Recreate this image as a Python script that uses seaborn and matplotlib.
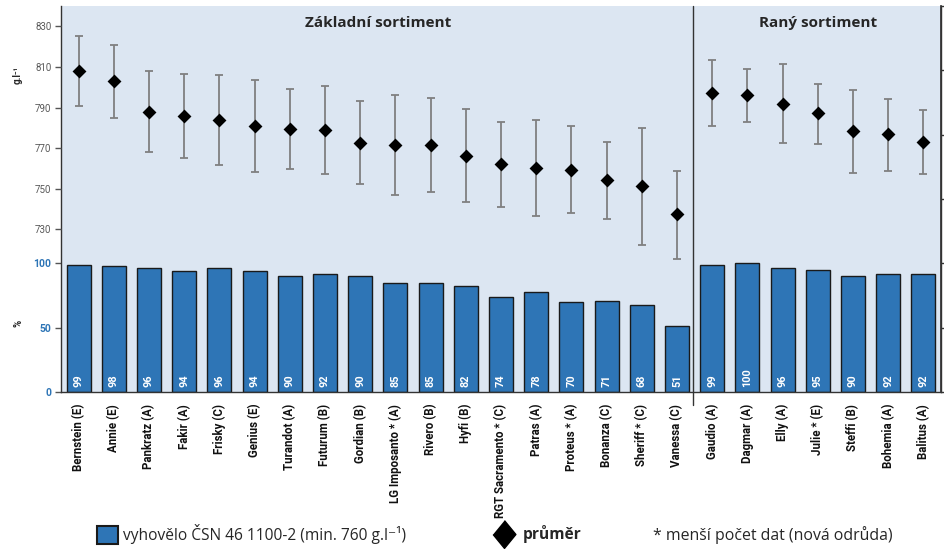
import numpy as np
import pandas as pd
import matplotlib
matplotlib.use("Agg")
import matplotlib.pyplot as plt
import seaborn as sns
from matplotlib.patches import Patch
from matplotlib.lines import Line2D

# ---------------- data ----------------
varieties = ["Bernstein (E)", "Annie (E)", "Pankratz (A)", "Fakir (A)", "Frisky (C)",
             "Genius (E)", "Turandot (A)", "Futurum (B)", "Gordian (B)",
             "LG Imposanto * (A)", "Rivero (B)", "Hyfi (B)", "RGT Sacramento * (C)",
             "Patras (A)", "Proteus * (A)", "Bonanza (C)", "Sheriff * (C)", "Vanessa (C)",
             "Gaudio (A)", "Dagmar (A)", "Elly (A)", "Julie * (E)", "Steffi (B)",
             "Bohemia (A)", "Balitus (A)"]
group = ["Základní sortiment"] * 18 + ["Raný sortiment"] * 7
pct_ok = [99, 98, 96, 94, 96, 94, 90, 92, 90, 85, 85, 82, 74, 78, 70, 71, 68, 51,
          99, 100, 96, 95, 90, 92, 92]
mean_vol = [808, 803, 788, 786, 784, 781, 779.3, 778.8, 772.8, 771.6, 771.5, 766.2,
            762, 760.3, 759.5, 754.3, 751.3, 737.4,
            797.2, 796.1, 792, 787.1, 778.4, 776.9, 773.3]
err_hi = [825.2, 821, 808, 806.7, 806, 803.6, 798.9, 800.6, 793.4, 796.4, 794.9, 789.5,
          782.8, 784.1, 780.7, 773.1, 780, 759,
          813.4, 809.2, 811.5, 801.8, 798.7, 794.2, 789]
err_lo = [791, 785, 767.9, 765.4, 761.5, 758.5, 760, 757.2, 752.6, 747.2, 748.2, 743.3,
          741, 736.4, 737.9, 735.2, 722.6, 715.5,
          780.8, 783.1, 772.6, 772.3, 757.8, 759, 757.5]
vol_ticks = [730, 750, 770, 790, 810, 830]
pct_ticks = [0, 50, 100]

df = pd.DataFrame({"odruda": varieties, "skupina": group, "pct": pct_ok,
                   "mean": mean_vol, "hi": err_hi, "lo": err_lo})

# ---------------- style ----------------
sns.set_theme(style="white")
COND = ["Roboto", "DejaVu Sans"]
plt.rcParams["font.family"] = ["Open Sans", "DejaVu Sans"]

BLUE = "#2E75B6"
BG = "#DCE6F2"

fig = plt.figure(figsize=(9.45, 5.49), dpi=100)
ax = fig.add_axes([61 / 945, 1 - 392 / 549, 880 / 945, 386 / 549])
ax.set_facecolor(BG)

sns.barplot(data=df, x="odruda", y="pct", ax=ax, color=BLUE, saturation=1,
            width=0.68, edgecolor="#1a1a1a", linewidth=1.0, zorder=2)
ax.set_ylim(0, 300)
ax.set_xlim(-0.5, len(varieties) - 0.5)
ax.set_yticks(pct_ticks)
ax.set_yticklabels([str(t) for t in pct_ticks], color=BLUE, fontweight="bold",
                   fontsize=7.5, family=COND)
ax.tick_params(axis="y", left=True, length=4, width=1, color="#555555", pad=3)
ax.set_xlabel("")
ax.set_ylabel("")
ax.set_xticks(range(len(varieties)))
ax.set_xticklabels(varieties, rotation=90, fontsize=8.3, fontweight="bold",
                   family=COND, color="#111111")
ax.tick_params(axis="x", bottom=False, pad=2.5)

for i, v in enumerate(pct_ok):
    ax.text(i, 4, str(v), rotation=90, ha="center", va="bottom", color="white",
            fontsize=7.8, fontweight="bold", family=COND, zorder=3)

ax.spines["top"].set_visible(False)
for s in ["left", "bottom", "right"]:
    ax.spines[s].set_color("#333333")
    ax.spines[s].set_linewidth(1.0)

# right-side ticks (no labels)
sec = ax.secondary_yaxis("right")
sec.set_yticks([0, 50, 100, 150, 200, 250, 300])
sec.set_yticklabels([])
sec.tick_params(length=5, width=1, color="#333333")
sec.spines["right"].set_color("#333333")

# divider between groups
n_base = group.count("Základní sortiment")
ax.axvline(n_base - 0.55, ymin=-0.034, ymax=1, color="#333333", lw=1.0,
           clip_on=False, zorder=4)

# group titles
trans = ax.get_xaxis_transform()
ax.text((n_base - 1) / 2, 0.955, "Základní sortiment", transform=trans,
        ha="center", va="center", fontsize=11, fontweight="bold", color="#262626")
ax.text(n_base + (len(varieties) - n_base - 1) / 2, 0.955, "Raný sortiment",
        transform=trans, ha="center", va="center", fontsize=11, fontweight="bold",
        color="#262626")

# ---------------- means with ranges ----------------
ax2 = ax.twinx()
ax2.set_ylim(650, 840)
xpos = np.arange(len(varieties))
m = np.array(mean_vol)
ax2.errorbar(xpos, m, yerr=[m - np.array(err_lo), np.array(err_hi) - m], fmt="none",
             ecolor="#808080", elinewidth=1.3, capsize=3, capthick=1.3, zorder=3)
sns.scatterplot(x=xpos, y=m, ax=ax2, marker="D", s=50, color="black",
                edgecolor="black", linewidth=0, zorder=4, legend=False)
ax2.yaxis.tick_left()
ax2.set_yticks(vol_ticks)
ax2.set_yticklabels([str(t) for t in vol_ticks], fontsize=7, color="#595959",
                    family=COND)
ax2.tick_params(axis="y", left=True, right=False, length=4, width=1,
                color="#555555", pad=3)
for s in ax2.spines.values():
    s.set_visible(False)
ax2.set_xlim(-0.5, len(varieties) - 0.5)

# axis labels
fig.text(18 / 945, 1 - 75 / 549, "g.l⁻¹", rotation=90, ha="center", va="center",
         fontsize=7, fontweight="bold", family=COND, color="#262626")
fig.text(18 / 945, 1 - 323 / 549, "%", rotation=90, ha="center", va="center",
         fontsize=7, fontweight="bold", family=COND, color="#262626")

# ---------------- legend ----------------
h1 = Patch(facecolor=BLUE, edgecolor="#1a1a1a", linewidth=1.5)
fig.legend([h1], ["vyhovělo ČSN 46 1100-2 (min. 760 g.l⁻¹)"], loc="center left",
           bbox_to_anchor=(83 / 945, 1 - 534 / 549), frameon=False,
           fontsize=11.2, handlelength=1.35, handleheight=1.35, handletextpad=0.35,
           labelcolor="#262626")
h2 = Line2D([], [], marker=[(0, 1), (0.82, 0), (0, -1), (-0.82, 0)], ms=20,
            color="black", lw=0)
fig.legend([h2], ["průměr"], loc="center left",
           bbox_to_anchor=(478 / 945, 1 - 534 / 549), frameon=False,
           handlelength=1.5, handletextpad=0.45, labelcolor="#262626",
           prop={"weight": "bold", "size": 11.2})
fig.text(653 / 945, 1 - 535 / 549, "* menší počet dat (nová odrůda)", ha="left",
         va="center", fontsize=11.4, color="#262626")

fig.savefig("out.png", dpi=100, facecolor="white")
